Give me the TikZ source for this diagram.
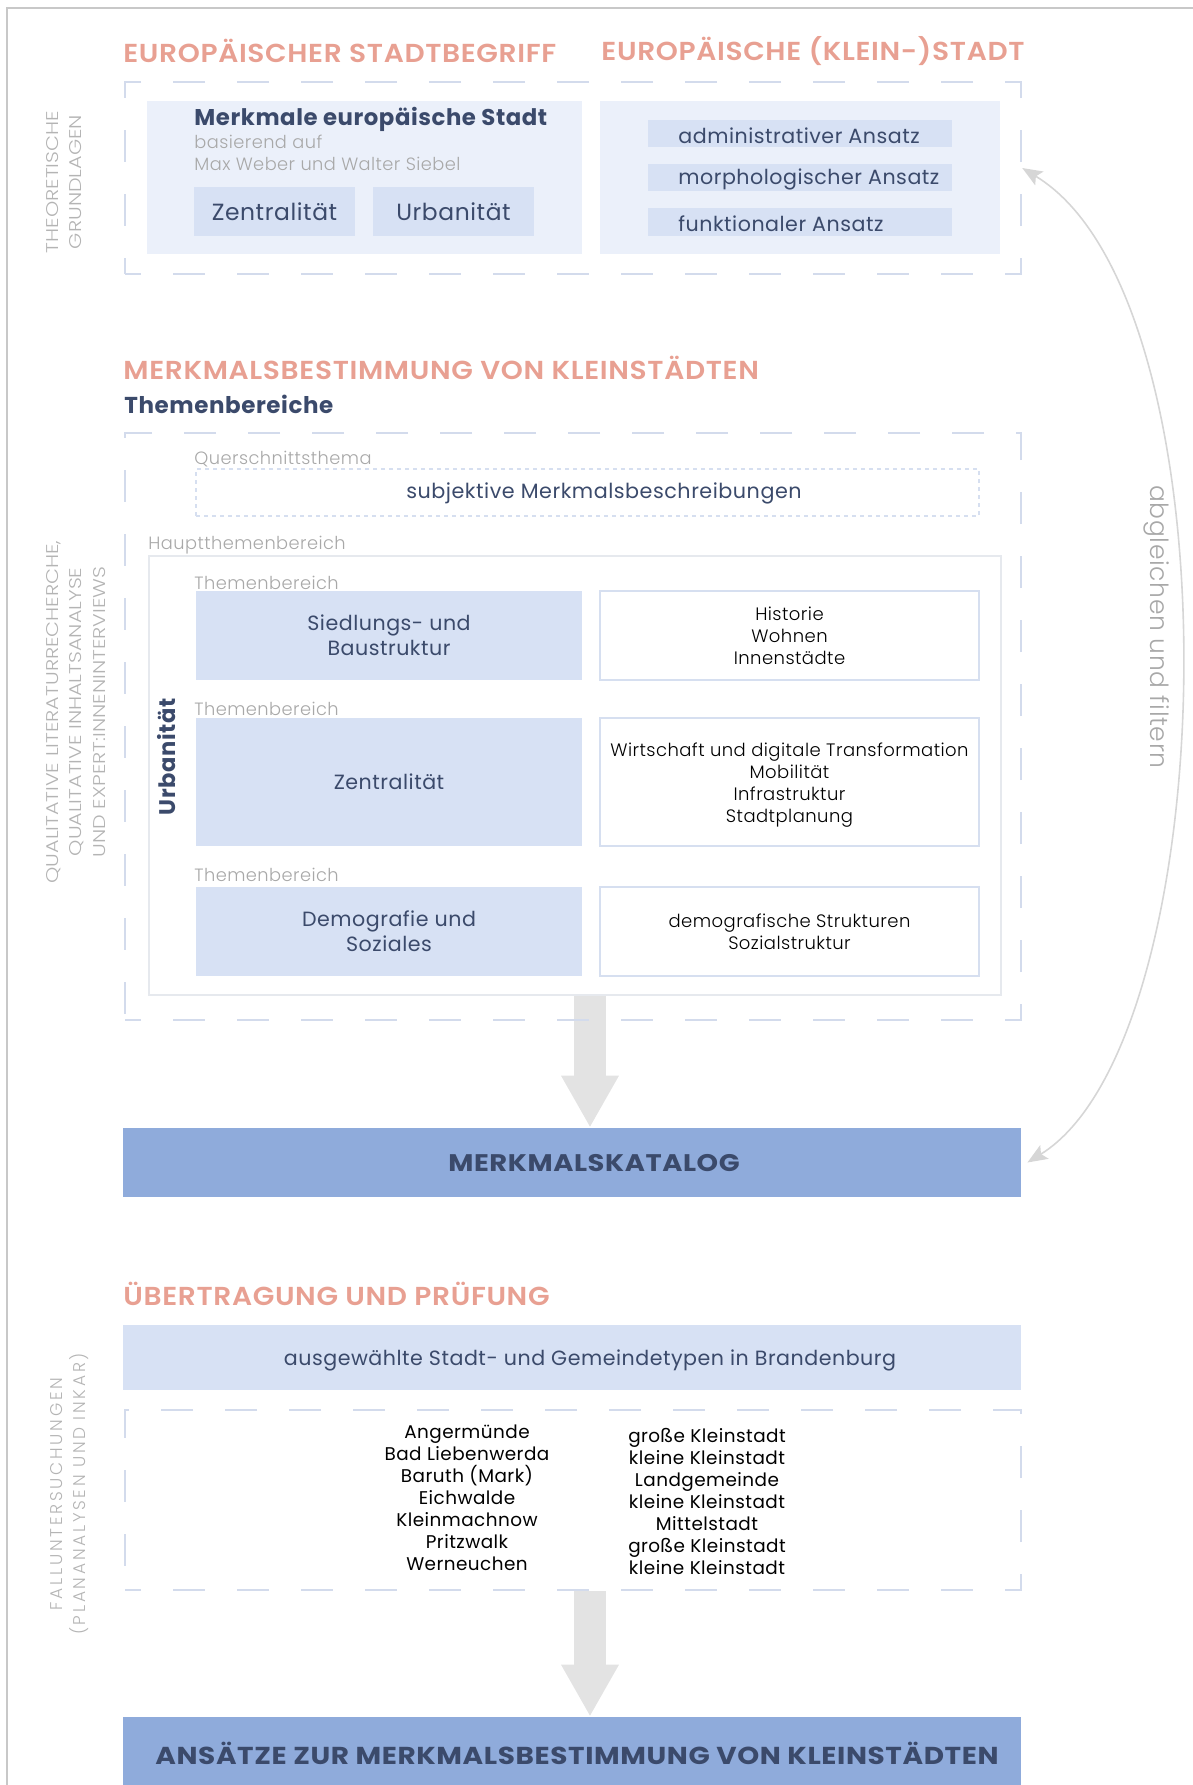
\documentclass[tikz,border=0pt]{standalone}
\usepackage{fontspec}
\setmainfont{Poppins}[LetterSpace=2.5]
\newfontfamily\poplight{Poppins Light}[LetterSpace=2.5]
\newfontfamily\popsemi{Poppins SemiBold}[FakeStretch=1.08,LetterSpace=2.5]
\newfontfamily\popbold{Poppins Bold}[FakeStretch=1.14,LetterSpace=2.5]
\newfontfamily\sidefont{Poppins Light}[FakeStretch=1.22]
\newfontfamily\fallfont{Poppins Light}[LetterSpace=16]
\usetikzlibrary{fit,arrows.meta,backgrounds}
\definecolor{salmon}{HTML}{E8A092}
\definecolor{navy}{HTML}{3B4A6B}
\definecolor{panelblue}{HTML}{EBF0FA}
\definecolor{chipblue}{HTML}{D7E1F4}
\definecolor{barblue}{HTML}{8FABDB}
\definecolor{dashline}{HTML}{D3DBEC}
\definecolor{rimblue}{HTML}{D6DFF0}
\definecolor{hintgray}{HTML}{A8A8A8}
\definecolor{sidegray}{HTML}{B4B4B4}
\definecolor{arrowgray}{HTML}{E3E3E3}
\definecolor{curvegray}{HTML}{D6D6D6}
\definecolor{framegray}{HTML}{C8C8C8}
\definecolor{haupgray}{HTML}{E6E9EE}

\begin{document}
\begin{tikzpicture}[x=0.5pt,y=-0.5pt,
  title/.style={inner sep=0pt,text=salmon,font=\popsemi\fontsize{13}{15}\selectfont},
  side/.style={inner sep=0pt,text=sidegray,align=center,rotate=90,font=\sidefont\fontsize{8.5}{11.75}\selectfont},
  dashbox/.style={inner sep=0pt,draw=dashline,line width=1.2pt,dash pattern=on 16pt off 16pt,dash phase=8pt},
  panel/.style={inner sep=0pt,fill=panelblue},
  chip/.style={inner sep=0pt,fill=chipblue},
  chiptext/.style={inner sep=0pt,text=navy,align=center,font=\fontsize{10.3}{12.5}\selectfont},
  ansatztext/.style={inner sep=0pt,anchor=west,yshift=-1pt,text=navy,font=\fontsize{10.3}{12}\selectfont},
  leer/.style={inner sep=0pt,fill=white,draw=rimblue,line width=1pt},
  leertext/.style={inner sep=0pt,text=black,align=center,font=\poplight\fontsize{9}{11}\selectfont},
  hint/.style={inner sep=0pt,anchor=west,text=hintgray,font=\poplight\fontsize{8.9}{10.5}\selectfont},
  bar/.style={inner sep=0pt,fill=barblue},
  bartext/.style={inner sep=0pt,text=navy,font=\popbold\fontsize{12}{14}\selectfont},
  bigarrow/.style={arrowgray,line width=16pt,-{Triangle[width=27pt,length=26pt]}},
  swing/.style={curvegray,line width=0.8pt,{Stealth[length=10pt,width=8pt,inset=2pt]}-{Stealth[length=10pt,width=8pt,inset=2pt]}}]
\useasboundingbox (0,0) rectangle (1193,1785);
\draw[framegray,line width=0.8pt] (7,1800) -- (7,8) -- (1200,8);

\node[title,anchor=west] (titel1) at (123,51) {EUROPÄISCHER STADTBEGRIFF};
\node[title,anchor=east] (titel2) at (1025,51) {EUROPÄISCHE (KLEIN-)STADT};
\node[dashbox,fit={(125,82) (1021,274)}] (rahmen1) {};
\node[panel,fit={(147,101) (582,254)}] (stadt) {};
\node[panel,fit={(600,101) (1000,254)}] (ansatz) {};
\node[anchor=west,inner sep=0pt,text=navy,font=\bfseries\fontsize{11.4}{13}\selectfont] (merkmale) at (194,119) {Merkmale europäische Stadt};
\node[hint] (basis) at (194,142) {basierend auf};
\node[hint] (weber) at (194,164) {Max Weber und Walter Siebel};
\node[chip,fit={(194,187) (355,236)}] (zentral) {};
\node[chip,fit={(373,187) (534,236)}] (urban) {};
\node[chiptext,font=\fontsize{11.7}{13}\selectfont] (zentraltext) at (zentral) {Zentralität};
\node[chiptext,font=\fontsize{11.7}{13}\selectfont] (urbantext) at (urban) {Urbanität};
\node[chip,fit={(648,120) (952,147)}] (adm) {};
\node[chip,fit={(648,164) (952,191)}] (morph) {};
\node[chip,fit={(648,208) (952,236)}] (funk) {};
\node[ansatztext] (admtext) at (adm.center -| 678,0) {administrativer Ansatz};
\node[ansatztext] (morphtext) at (morph.center -| 678,0) {morphologischer Ansatz};
\node[ansatztext] (funktext) at (funk.center -| 678,0) {funktionaler Ansatz};
\node[side] (theorie) at (64,182) {THEORETISCHE\\GRUNDLAGEN};

\node[title,anchor=west] (titel3) at (123,368) {MERKMALSBESTIMMUNG VON KLEINSTÄDTEN};
\node[anchor=west,inner sep=0pt,text=navy,font=\bfseries\fontsize{11.5}{13}\selectfont] (themen) at (124,404) {Themenbereiche};
\node[dashbox,fit={(125,433) (1021,1020)}] (rahmen2) {};
\node[hint] (querlabel) at (194,459) {Querschnittsthema};
\node[inner sep=0pt,draw=rimblue,line width=1pt,dash pattern=on 2pt off 2pt,fit={(196,469) (979,516)}] (quer) {};
\node[inner sep=0pt,text=navy,font=\fontsize{10.35}{12}\selectfont] (quertext) at (604,493) {subjektive Merkmalsbeschreibungen};
\node[hint] (hauptlabel) at (148,545) {Hauptthemenbereich};
\node[inner sep=0pt,fill=white,draw=haupgray,line width=1.2pt,fit={(149,556) (1001,995)}] (haupt) {};
\node[inner sep=0pt,rotate=90,text=navy,font=\bfseries\fontsize{11.3}{13}\selectfont] (urbanitaet) at (167,757) {Urbanität};
\node[hint] (tb1) at (194,583) {Themenbereich};
\node[hint] (tb2) at (194,709) {Themenbereich};
\node[hint] (tb3) at (194,875) {Themenbereich};
\node[chip,fit={(196,591) (582,680)}] (siedlung) {};
\node[chip,fit={(196,718) (582,846)}] (zentralitaet) {};
\node[chip,fit={(196,887) (582,976)}] (demografie) {};
\node[chiptext] (siedlungtext) at (siedlung) {Siedlungs- und\\Baustruktur};
\node[chiptext] (zentralitaettext) at (zentralitaet) {Zentralität};
\node[chiptext] (demografietext) at (demografie) {Demografie und\\Soziales};
\node[leer,fit={(600,591) (979,680)}] (siedlungrechts) {};
\node[leer,fit={(600,718) (979,846)}] (zentralrechts) {};
\node[leer,fit={(600,887) (979,976)}] (demorechts) {};
\node[leertext] (siedlungliste) at (siedlungrechts) {Historie\\Wohnen\\Innenstädte};
\node[leertext,yshift=-1.5pt] (zentralliste) at (zentralrechts) {Wirtschaft und digitale Transformation\\Mobilität\\Infrastruktur\\Stadtplanung};
\node[leertext] (demoliste) at (demorechts) {demografische Strukturen\\Sozialstruktur};
\node[side] (methode) at (76,712) {QUALITATIVE LITERATURRECHERCHE,\\QUALITATIVE INHALTSANALYSE\\UND EXPERT:INNENINTERVIEWS};

\node[bar,fit={(123,1128) (1021,1197)}] (katalog) {};
\node[bartext] (katalogtext) at (594,1163) {MERKMALSKATALOG};

\node[title,anchor=west] (titel4) at (123,1294) {ÜBERTRAGUNG UND PRÜFUNG};
\node[chip,fit={(123,1325) (1021,1390)}] (typen) {};
\node[inner sep=0pt,text=navy,font=\fontsize{10.3}{12}\selectfont] (typentext) at (590,1360) {ausgewählte Stadt- und Gemeindetypen in Brandenburg};
\node[dashbox,fit={(125,1410) (1021,1590)}] (rahmen3) {};
\node[inner sep=0pt,align=center,font=\fontsize{9.2}{11}\selectfont] (orte) at (467,1498) {Angermünde\\Bad Liebenwerda\\Baruth (Mark)\\Eichwalde\\Kleinmachnow\\Pritzwalk\\Werneuchen};
\node[inner sep=0pt,align=center,font=\fontsize{9.2}{11}\selectfont] (ortstypen) at (707,1501) {große Kleinstadt\\kleine Kleinstadt\\Landgemeinde\\kleine Kleinstadt\\Mittelstadt\\große Kleinstadt\\kleine Kleinstadt};
\node[side,font=\fallfont\fontsize{8.5}{11.5}\selectfont] (fall) at (70,1494) {FALLUNTERSUCHUNGEN\\(PLANANALYSEN UND INKAR)};

\node[bar,fit={(123,1717) (1021,1789)}] (ansaetze) {};
\node[bartext,font=\popbold\fontsize{12.25}{14}\selectfont] (ansaetzetext) at (577,1753) {ANSÄTZE ZUR MERKMALSBESTIMMUNG VON KLEINSTÄDTEN};

\coordinate (achse) at (590,0);
\begin{pgfonlayer}{background}
\draw[bigarrow] (haupt.south -| achse) -- (katalog.north -| achse);
\draw[bigarrow] (rahmen3.south -| achse) -- (ansaetze.north -| achse);
\end{pgfonlayer}

\draw[swing] ([xshift=3pt]katalog.east) .. controls (1225,1040) and (1240,300) .. ([yshift=5pt]rahmen1.east);
\node[inner sep=0pt,rotate=-90,text=hintgray,font=\poplight\fontsize{12.5}{14}\selectfont] (abgleich) at (1157,627) {abgleichen und filtern};
\end{tikzpicture}
\end{document}
